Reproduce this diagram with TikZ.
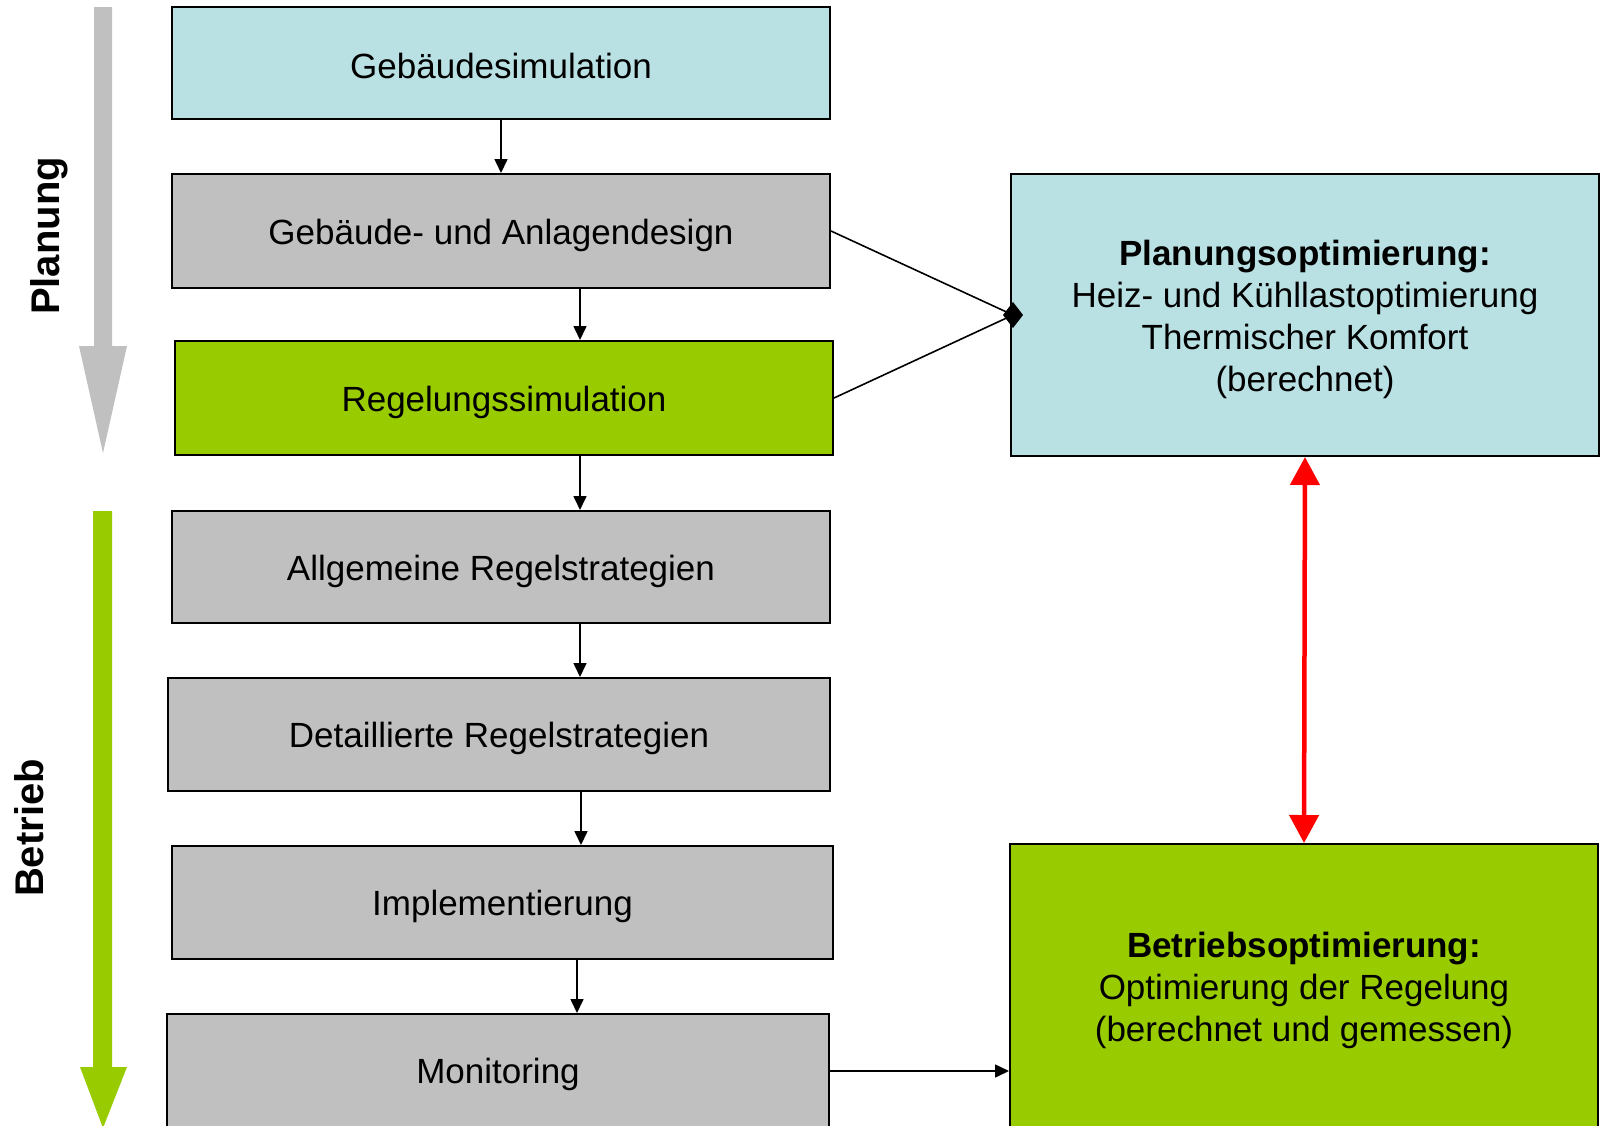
\documentclass[tikz,border=0pt]{standalone}
\usepackage{fontspec}
\setmainfont{Liberation Sans}
\usetikzlibrary{arrows.meta}
\definecolor{lblue}{RGB}{185,224,227}
\definecolor{lgray}{RGB}{192,192,192}
\definecolor{lgreen}{RGB}{153,204,0}
\tikzset{
  box/.style={draw=black, line width=2pt, inner sep=0pt},
  txt/.style={inner sep=0pt, font=\fontsize{35}{42}\selectfont, align=center},
  arr/.style={line width=1.6pt, -{Triangle[length=14pt,width=13pt]}},
  bigtxt/.style={font=\fontsize{40}{48}\selectfont\bfseries, rotate=90}
}
\begin{document}
\begin{tikzpicture}[x=1pt,y=-1pt]
\useasboundingbox (0,0) rectangle (1606,1125);
\clip (0,0) rectangle (1606,1125);
\fill[white] (0,0) rectangle (1606,1125);
% phase arrows
\fill[lgray] (94,7) -- (112,7) -- (112,346) -- (127,346) -- (103,453) -- (79,346) -- (94,346) -- cycle;
\fill[lgreen] (93,511) -- (112,511) -- (112,1067) -- (127,1067) -- (103,1128) -- (80,1067) -- (93,1067) -- cycle;
\node[bigtxt] (planung) at (49,236) {Planung};
\node[bigtxt] (betrieb) at (29,828) {Betrieb};
% boxes
\node[box, fill=lblue, minimum width=658pt, minimum height=112pt] (b1) at (501,63) {};
\node[box, fill=lgray, minimum width=658pt, minimum height=114pt] (b2) at (501,231) {};
\node[box, fill=lgreen, minimum width=658pt, minimum height=114pt] (b3) at (504,398) {};
\node[box, fill=lgray, minimum width=658pt, minimum height=112pt] (b4) at (501,567) {};
\node[box, fill=lgray, minimum width=662pt, minimum height=113pt] (b5) at (499,734.5) {};
\node[box, fill=lgray, minimum width=661pt, minimum height=113pt] (b6) at (502.5,902.5) {};
\node[box, fill=lgray, minimum width=662pt, minimum height=114pt] (b7) at (498,1071) {};
\node[box, fill=lblue, minimum width=588pt, minimum height=282pt] (p1) at (1305,315) {};
\node[box, fill=lgreen, minimum width=588pt, minimum height=286pt] (p2) at (1304,987) {};
% box texts
\node[txt] (t1) at ([yshift=-3pt]b1.center) {Gebäudesimulation};
\node[txt] (t2) at ([yshift=-4pt]b2.center) {Gebäude- und Anlagendesign};
\node[txt] (t3) at ([yshift=-4pt]b3.center) {Regelungssimulation};
\node[txt] (t4) at ([yshift=-4pt]b4.center) {Allgemeine Regelstrategien};
\node[txt] (t5) at ([yshift=-4pt]b5.center) {Detaillierte Regelstrategien};
\node[txt] (t6) at ([yshift=-4pt]b6.center) {Implementierung};
\node[txt] (t7) at ([yshift=-3pt]b7.center) {Monitoring};
\node[txt] (tp1) at ([yshift=-4pt]p1.center) {\textbf{Planungsoptimierung:}\\Heiz- und Kühllastoptimierung\\Thermischer Komfort\\(berechnet)};
\node[txt] (tp2) at ([yshift=-3pt]p2.center) {\textbf{Betriebsoptimierung:}\\Optimierung der Regelung\\(berechnet und gemessen)};
% vertical flow arrows
\coordinate (xa) at (501,0);
\coordinate (xb) at (580,0);
\coordinate (xc) at (581,0);
\coordinate (xd) at (577,0);
\draw[arr] (b1.south -| xa) -- (b2.north -| xa);
\draw[arr] (b2.south -| xb) -- (b3.north -| xb);
\draw[arr] (b3.south -| xb) -- (b4.north -| xb);
\draw[arr] (b4.south -| xb) -- (b5.north -| xb);
\draw[arr] (b5.south -| xc) -- (b6.north -| xc);
\draw[arr] (b6.south -| xd) -- (b7.north -| xd);
\draw[arr] (b7.east) -- (b7.east -| p2.west);
% diamond connectors
\coordinate (dia) at (1013,315);
\draw[line width=1.6pt] (b2.east) -- (dia);
\draw[line width=1.6pt] (b3.east) -- (dia);
\fill[black] (dia) ++(-10,0) -- ++(10,-13) -- ++(10,13) -- ++(-10,13) -- cycle;
% red double arrow
\draw[red, line width=4.5pt, {Triangle[length=28pt,width=29pt]}-{Triangle[length=28pt,width=29pt]}] (p1.south) -- (p2.north);
\end{tikzpicture}
\end{document}
